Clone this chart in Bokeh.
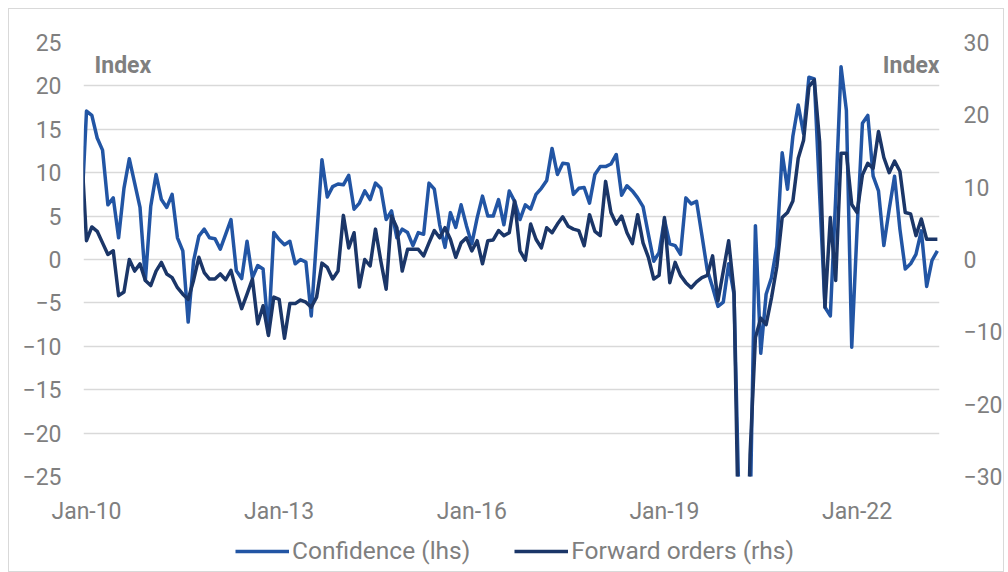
from bokeh.plotting import figure
from bokeh.layouts import column
from bokeh.models import Range1d, LinearAxis, FixedTicker, Legend, LegendItem, Label
from bokeh.embed import file_html
from bokeh.resources import INLINE

# Monthly series, Dec-09 (partly visible at the left edge) to Apr-23
confidence = [
    4.5,
    17.1, 16.6, 14.0, 12.6, 6.3, 7.1, 2.5, 8.2, 11.6, 8.8, 6.0, -2.4,
    6.1, 9.8, 6.9, 6.0, 7.5, 2.5, 1.0, -7.2, -0.2, 2.7, 3.5, 2.5,
    2.4, 1.2, 2.9, 4.6, -1.3, -2.2, 2.1, -2.1, -0.7, -1.1, -8.5, 3.1,
    2.3, 1.7, 2.1, -0.5, 0.0, -0.3, -6.5, 2.5, 11.5, 7.2, 8.4, 8.7,
    8.6, 9.7, 5.8, 6.5, 7.9, 6.9, 8.8, 8.2, 4.6, 5.6, 2.5, 3.5,
    3.1, 1.6, 3.1, 2.9, 8.8, 8.1, 4.0, 1.4, 5.4, 3.7, 6.3, 3.9,
    1.8, 4.8, 7.3, 5.0, 5.0, 6.9, 4.0, 7.9, 6.7, 4.6, 6.3, 5.8,
    7.5, 8.2, 9.1, 12.8, 9.8, 11.1, 11.0, 7.5, 8.2, 8.3, 6.5, 9.8,
    10.7, 10.7, 11.0, 12.1, 7.4, 8.5, 7.9, 7.1, 6.1, 2.9, -0.2, 0.8,
    4.6, 1.8, 1.6, 0.6, 7.1, 6.4, 6.7, 2.8, -1.2, -3.2, -5.4, -4.9,
    -0.5, -4.0, -30.0, -42.0, -30.0, 3.9, -10.8, -4.0, -2.1, 1.5, 12.3, 8.1,
    14.2, 17.8, 14.5, 21.0, 20.8, 7.5, -5.5, -6.5, 7.1, 22.2, 17.2, -10.1,
    3.5, 15.7, 16.6, 9.6, 7.9, 1.6, 5.8, 9.6, 3.5, -1.1, -0.5, 0.6,
    3.3, -3.1, -0.1, 1.0,
]
forward_orders = [
    16.0,
    2.6, 4.5, 3.9, 2.3, 0.7, 1.2, -5.0, -4.5, 0.0, -1.6, -0.6, -2.9,
    -3.6, -1.6, -0.4, -2.0, -2.5, -3.9, -4.8, -5.5, -2.9, 0.3, -1.8, -2.7,
    -2.7, -2.0, -2.8, -1.5, -4.3, -6.8, -4.8, -2.7, -8.9, -6.4, -10.5, -5.2,
    -5.5, -10.9, -6.1, -6.1, -5.6, -5.9, -6.6, -5.2, -0.5, -1.1, -2.7, -1.6,
    6.1, 1.6, 3.7, -3.8, 0.0, -0.9, 4.2, -0.2, -4.1, 6.0, 4.4, -1.6,
    1.4, 1.4, 1.4, 0.5, 2.3, 4.0, 3.0, 4.4, 2.8, 0.3, 2.3, 3.0,
    1.2, 2.6, -0.6, 2.6, 2.7, 4.0, 3.3, 3.7, 8.1, 1.2, -0.1, 4.9,
    2.8, 1.6, 4.4, 3.7, 4.9, 5.9, 4.6, 4.2, 4.0, 1.9, 6.2, 3.9,
    3.3, 10.8, 6.5, 4.9, 6.0, 3.7, 2.2, 6.2, 2.3, 0.3, -2.7, -2.2,
    5.8, -3.2, -0.4, -2.2, -3.2, -3.9, -3.1, -2.5, -2.2, 0.5, -5.7, -1.6,
    2.6, -4.4, -45.0, -58.0, -27.0, -10.8, -8.1, -9.0, -5.3, -1.0, 5.8, 6.5,
    8.1, 14.0, 16.5, 23.9, 24.8, 16.3, -6.6, 5.8, -2.9, 14.7, 14.7, 7.6,
    6.5, 11.7, 13.3, 12.6, 17.7, 14.1, 12.0, 13.6, 12.2, 6.5, 6.3, 3.3,
    5.6, 2.8, 2.8, 2.8,
]
month_index = list(range(-1, len(confidence) - 1))  # 0 = Jan-10

x_tick_pos = [0, 36, 72, 108, 144]
x_tick_labels = ["Jan-10", "Jan-13", "Jan-16", "Jan-19", "Jan-22"]
left_ticks = [-25, -20, -15, -10, -5, 0, 5, 10, 15, 20, 25]
right_ticks = [-30, -20, -10, 0, 10, 20, 30]
series_names = ["Confidence (lhs)", "Forward orders (rhs)"]

FONT = "Roboto"
GREY = "#7F7F7F"
LIGHT = "#2255A4"
DARK = "#1B3668"
BORDER = "1px solid #D9D9D9"

p = figure(width=996, height=522,
           x_range=Range1d(-0.56, 159.4), y_range=Range1d(-25, 25),
           output_backend="svg", toolbar_location=None,
           min_border_left=74, min_border_right=60,
           min_border_top=33, min_border_bottom=55)
p.margin = (8, 0, 0, 8)
p.styles = {"border-top": BORDER, "border-left": BORDER, "border-right": BORDER}
p.extra_y_ranges = {"rhs": Range1d(-30, 30)}
p.outline_line_color = None
p.background_fill_color = "white"
p.border_fill_color = "white"

p.xgrid.visible = False
p.ygrid.grid_line_color = "#D9D9D9"
p.ygrid.grid_line_width = 1.5
p.ygrid.ticker = FixedTicker(ticks=left_ticks)

def style_axis(ax, standoff):
    ax.axis_line_color = None
    ax.major_tick_line_color = None
    ax.minor_tick_line_color = None
    ax.major_tick_out = 0
    ax.major_tick_in = 0
    ax.major_label_standoff = standoff
    ax.major_label_text_font = FONT
    ax.major_label_text_font_size = "23px"
    ax.major_label_text_color = GREY

p.yaxis.ticker = FixedTicker(ticks=left_ticks)
style_axis(p.yaxis[0], 22)

p.xaxis.ticker = FixedTicker(ticks=x_tick_pos)
p.xaxis.major_label_overrides = {t: l for t, l in zip(x_tick_pos, x_tick_labels)}
style_axis(p.xaxis[0], 21)

rax = LinearAxis(y_range_name="rhs", ticker=FixedTicker(ticks=right_ticks))
style_axis(rax, 24)
p.add_layout(rax, "right")

p.line(month_index, confidence, line_color=LIGHT, line_width=3.5, line_join="round")
p.line(month_index, forward_orders, line_color=DARK, line_width=3.5, line_join="round",
       y_range_name="rhs")

p.add_layout(Label(x=1.5, y=22.3, text="Index", text_font=FONT, text_font_size="23px",
                   text_font_style="bold", text_color=GREY, text_baseline="middle"))
p.add_layout(Label(x=159.4, y=22.3, text="Index", text_font=FONT, text_font_size="23px",
                   text_font_style="bold", text_color=GREY, text_baseline="middle",
                   text_align="right"))

# legend strip below the chart (its series lie outside its own range, only the legend shows)
lf = figure(width=996, height=42, x_range=Range1d(-0.56, 159.4), y_range=Range1d(1000, 1001),
            output_backend="svg", toolbar_location=None,
            min_border_left=0, min_border_right=0, min_border_top=0, min_border_bottom=0)
lf.margin = (0, 0, 0, 8)
lf.styles = {"border-bottom": BORDER, "border-left": BORDER, "border-right": BORDER}
lf.axis.visible = False
lf.grid.visible = False
lf.outline_line_color = None
lf.border_fill_color = "white"
k1 = lf.line(month_index, confidence, line_color=LIGHT, line_width=3.5)
k2 = lf.line(month_index, forward_orders, line_color=DARK, line_width=3.5)
legend = Legend(items=[LegendItem(label=series_names[0], renderers=[k1]),
                       LegendItem(label=series_names[1], renderers=[k2])],
                orientation="horizontal", location=(152, 7),
                glyph_width=54, glyph_height=20, label_height=20, label_standoff=3, spacing=44,
                padding=0, margin=0, border_line_color=None, background_fill_alpha=0,
                label_text_font=FONT, label_text_font_size="24.5px", label_text_color=GREY)
lf.add_layout(legend)

layout = column(p, lf, spacing=0)
open("out.html", "w").write(file_html(layout, INLINE))
